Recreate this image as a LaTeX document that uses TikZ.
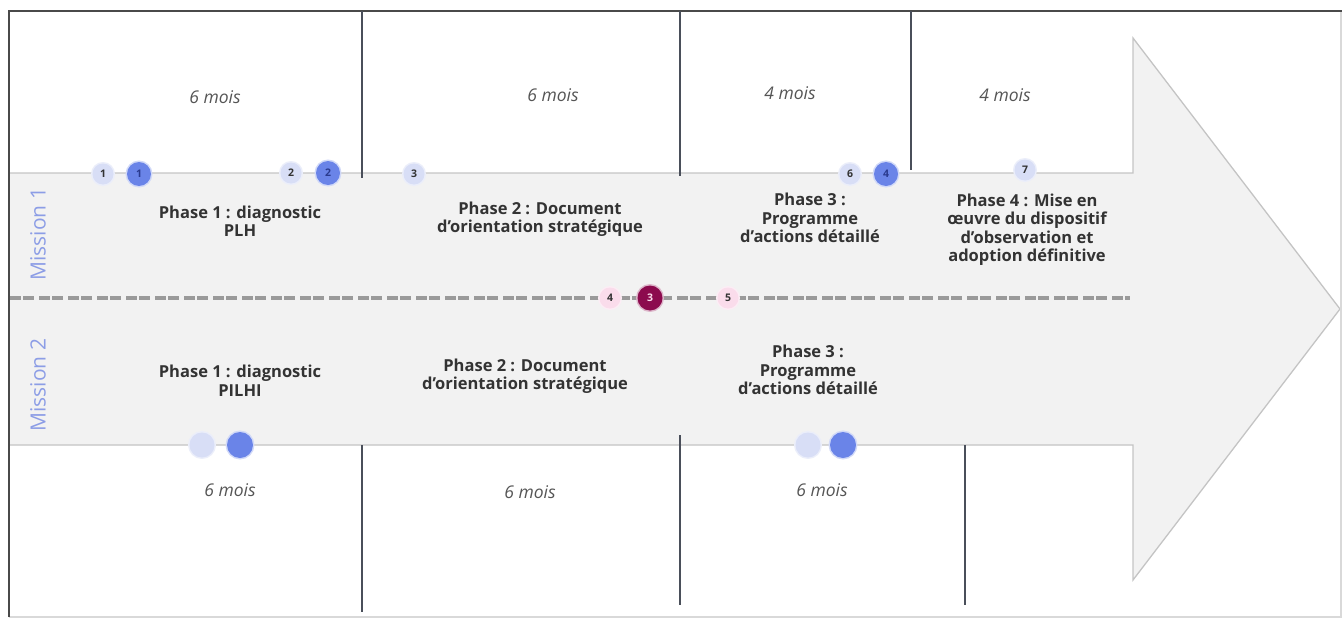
\documentclass[tikz,border=0pt]{standalone}
\usepackage{fontspec}
\setmainfont{Open Sans}
\definecolor{arrowfill}{HTML}{F2F2F2}
\definecolor{arrowline}{HTML}{C4C4C4}
\definecolor{framedark}{HTML}{4A4A4A}
\definecolor{framelight}{HTML}{D9D9D9}
\definecolor{sepline}{HTML}{4A4F5A}
\definecolor{txt}{HTML}{333333}
\definecolor{monthtxt}{HTML}{555555}
\definecolor{missiontxt}{HTML}{8C9DE6}
\definecolor{ltblue}{HTML}{D8DEF6}
\definecolor{dkblue}{HTML}{6A84E8}
\definecolor{navy}{HTML}{2A3A8E}
\definecolor{ltpink}{HTML}{FADCEB}
\definecolor{dkpink}{HTML}{8C0B4E}
\definecolor{dashgray}{HTML}{9A9A9A}
\begin{document}
\begin{tikzpicture}[x=1pt,y=-1pt,
  phase/.style={font=\bfseries\fontsize{16.5}{18.5}\selectfont, text=txt, align=center, inner sep=0pt},
  month/.style={font=\itshape\fontsize{17.5}{20}\selectfont, text=monthtxt, inner sep=0pt},
  mission/.style={font=\fontsize{21}{24}\selectfont, text=missiontxt, rotate=90, inner sep=0pt},
  ltb/.style={circle, fill=ltblue, minimum size=21pt, inner sep=0pt, text=txt, font=\bfseries\fontsize{10.5}{11}\selectfont, preaction={draw=ltblue!50, line width=3pt}},
  dkb/.style={circle, fill=dkblue, minimum size=24pt, inner sep=0pt, text=navy, font=\bfseries\fontsize{10.5}{11}\selectfont, preaction={draw=dkblue!30, line width=3pt}},
  ltp/.style={circle, fill=ltpink, minimum size=21pt, inner sep=0pt, text=txt, font=\bfseries\fontsize{10.5}{11}\selectfont, preaction={draw=ltpink!50, line width=3pt}},
  dkp/.style={circle, fill=dkpink, minimum size=25pt, inner sep=0pt, text=ltpink, font=\bfseries\fontsize{10.5}{11}\selectfont, preaction={draw=dkpink!30, line width=3pt}},
  sep/.style={draw=sepline, line width=1.6pt},
  dashln/.style={draw=dashgray, line width=3.5pt, dash pattern=on 11pt off 2pt on 11pt off 5pt}
]
\useasboundingbox (0,0) rectangle (1342,621);
% arrow
\fill[arrowfill] (9,173) -- (1133,173) -- (1133,38) -- (1340,309) -- (1133,580) -- (1133,445) -- (9,445) -- cycle;
\draw[arrowline, line width=1.3pt, line join=miter] (9,173) -- (1133,173) -- (1133,38) -- (1340,309) -- (1133,580) -- (1133,445) -- (9,445);
% frame
\draw[framelight, line width=1.2pt] (1341,11) -- (1341,617) -- (9,617);
\draw[framedark, line width=2.6pt] (9,617) -- (9,11) -- (1342,11);
% separators
\coordinate (t1a) at (362,11); \coordinate (t1b) at (362,178);
\coordinate (t2a) at (680,11); \coordinate (t2b) at (680,176);
\coordinate (t3a) at (911,11); \coordinate (t3b) at (911,170);
\coordinate (b1a) at (362,445); \coordinate (b1b) at (362,612);
\coordinate (b2a) at (680,435); \coordinate (b2b) at (680,605);
\coordinate (b3a) at (965,445); \coordinate (b3b) at (965,605);
\draw[sep] (t1a) -- (t1b);
\draw[sep] (t2a) -- (t2b);
\draw[sep] (t3a) -- (t3b);
\draw[sep] (b1a) -- (b1b);
\draw[sep] (b2a) -- (b2b);
\draw[sep] (b3a) -- (b3b);
% dashed separator
\coordinate (dL) at (10,298); \coordinate (dR) at (1130,298);
\draw[dashln] (dL) -- (dR);
% months
\node[month] (mo1) at (215,97) {6 mois};
\node[month] (mo2) at (553,95) {6 mois};
\node[month] (mo3) at (790,93) {4 mois};
\node[month] (mo4) at (1005,95) {4 mois};
\node[month] (mo5) at (230,490) {6 mois};
\node[month] (mo6) at (530,492) {6 mois};
\node[month] (mo7) at (822,490) {6 mois};
% missions
\node[mission] (ms1) at (38,234) {Mission 1};
\node[mission] (ms2) at (38,385) {Mission 2};
% phases mission 1
\node[phase] (p11) at (240,221) {Phase 1 : diagnostic\\PLH};
\node[phase] (p12) at (540,219) {Phase 2 : Document\\d'orientation stratégique};
\node[phase] (p13) at (810,218) {Phase 3 :\\Programme\\d'actions détaillé};
\node[phase] (p14) at (1027,229.5) {Phase 4 : Mise en\\œuvre du dispositif\\d'observation et\\adoption définitive};
% phases mission 2
\node[phase] (p21) at (240,380.5) {Phase 1 : diagnostic\\PILHI};
\node[phase] (p22) at (525,376) {Phase 2 : Document\\d'orientation stratégique};
\node[phase] (p23) at (808,370) {Phase 3 :\\Programme\\d'actions détaillé};
% milestones mission 1
\node[ltb] (a1) at (103,174) {1};
\node[dkb] (b1) at (139,174) {1};
\node[ltb] (a2) at (291,173) {2};
\node[dkb] (b2) at (328,173) {2};
\node[ltb] (a3) at (414,174) {3};
\node[ltb] (a6) at (850,174) {6};
\node[dkb] (b4) at (886,174) {4};
\node[ltb] (a7) at (1025,170) {7};
% milestones middle
\node[ltp] (c4) at (610,298) {4};
\node[dkp] (d3) at (650,298) {3};
\node[ltp] (c5) at (728,298) {5};
% milestones mission 2
\node[ltb, minimum size=25pt] (e1) at (202,445) {};
\node[dkb, minimum size=26pt] (f1) at (240,445) {};
\node[ltb, minimum size=25pt] (e2) at (808,445) {};
\node[dkb, minimum size=26pt] (f2) at (843,445) {};
\end{tikzpicture}
\end{document}
